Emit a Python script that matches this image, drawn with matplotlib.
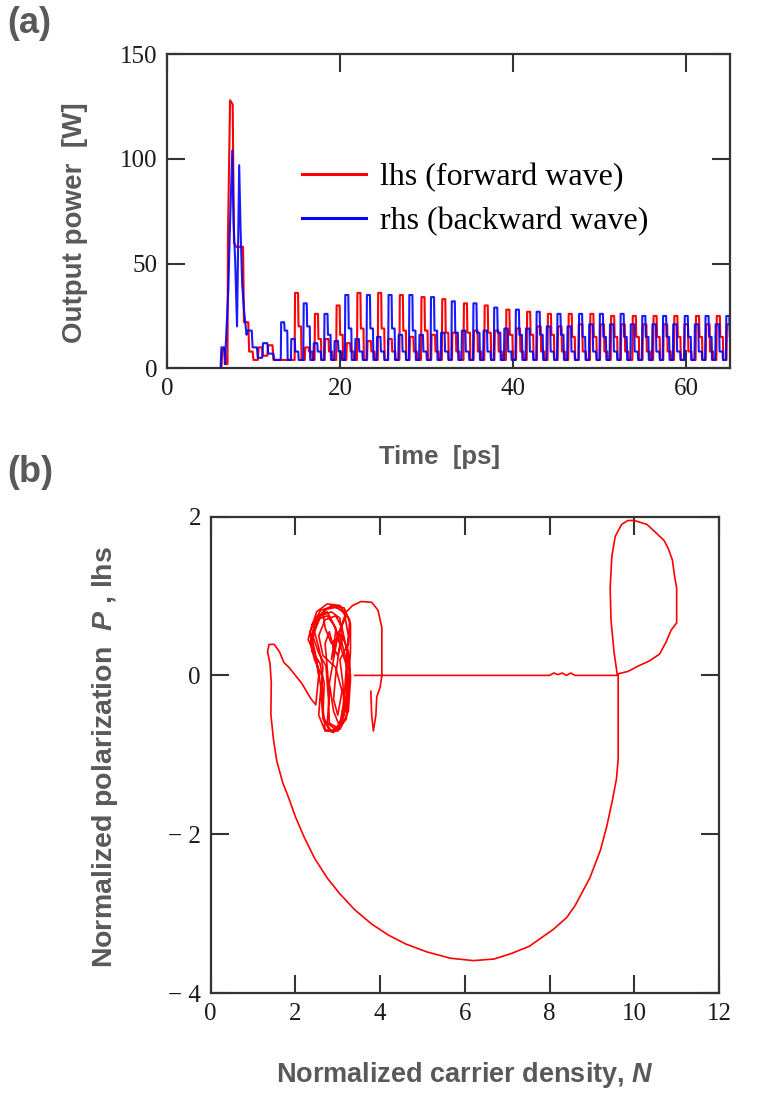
import numpy as np
import matplotlib
matplotlib.use("Agg")
import matplotlib.pyplot as plt

plt.rcParams['mathtext.fontset'] = 'custom'
plt.rcParams['mathtext.it'] = 'Liberation Sans:italic:bold'
plt.rcParams['mathtext.rm'] = 'Liberation Sans:bold'

# ---------------- panel (a) data: output power vs time ----------------
# initial burst (t in ps, P in W)
red_burst_t = [0, 6.0, 6.3, 6.4, 6.7, 6.8, 7.0, 7.05, 7.3, 7.6, 7.75, 8.0, 8.5, 8.8, 8.9, 9.4, 9.5, 9.9, 10.0,
               10.5, 10.6, 11.0, 11.1, 11.6, 11.7, 12.2, 12.3, 12.8]
red_burst_p = [0, 0, 0, 9, 9, 2, 2, 62, 128, 126, 60, 58, 58, 58, 22, 22, 8, 8, 4,
               4, 10, 10, 6, 6, 11, 11, 4, 4]
blue_burst_t = [0, 5.8, 6.2, 6.3, 6.6, 6.7, 6.9, 7.1, 7.3, 7.55, 7.7, 7.9, 8.1, 8.35, 8.5, 8.7, 8.9, 9.2, 9.3,
                9.8, 9.9, 10.4, 10.5, 11.0, 11.1, 11.6, 11.7, 12.3, 12.4, 12.9]
blue_burst_p = [0, 0, 0, 10, 10, 2, 20, 38, 70, 104, 70, 50, 20, 97, 68, 40, 28, 16, 18,
                18, 10, 10, 5, 5, 12, 12, 7, 7, 4, 4]

# pulse train: main peaks (every ~2.45 ps per wave), the step that follows each peak,
# and the lower secondary pulse half a period later
red_peak_t = [15.0, 17.3, 19.8, 22.2, 24.6, 27.1, 29.6, 32.0, 34.5, 36.9, 39.4, 41.8, 44.2, 46.6, 49.1, 51.5,
              54.0, 56.4, 58.8, 61.3, 63.7]
red_peak_p = [36, 26, 30, 36, 36, 35, 34, 33, 31, 30, 28, 27, 26, 26, 26, 25, 25, 25, 25, 25, 25]
red_step_p = [20, 14, 16, 19, 19, 18, 18, 17, 17, 17, 16, 16, 16, 15, 15, 15, 15, 15, 15, 15, 15]
red_sec_p = [10, 14, 12, 13, 14, 15, 16, 17, 18, 18, 19, 20, 20, 21, 21, 21, 21, 21, 21, 21, 21]
blue_peak_t = [13.4, 16.0, 18.4, 20.8, 23.3, 25.8, 28.2, 30.7, 33.1, 35.6, 38.0, 40.5, 42.9, 45.3, 47.8, 50.2,
               52.6, 55.1, 57.5, 60.0, 62.4, 64.8]
blue_peak_p = [22, 31, 26, 35, 35, 35, 35, 34, 32, 31, 29, 28, 27, 26, 26, 26, 26, 25, 25, 25, 25, 25]
blue_step_p = [18, 20, 16, 19, 19, 19, 18, 18, 17, 17, 17, 16, 16, 16, 15, 15, 15, 15, 15, 15, 15, 15]
blue_sec_p = [14, 12, 13, 14, 15, 16, 16, 17, 18, 18, 19, 19, 20, 20, 21, 21, 21, 21, 21, 21, 21, 21]
base_level = 4

# ---------------- panel (b) data: phase trajectory ----------------
traj_N = [3.4, 5.0, 8.0, 8.1, 8.2, 8.3, 8.4, 8.5, 8.6, 9.1, 9.6,
          # D-shaped loop on the right
          9.52, 9.45, 9.43, 9.47, 9.55, 9.7, 9.85, 10.0, 10.3, 10.5, 10.7, 10.8, 10.9, 10.95, 11.0, 11.0,
          10.87, 10.75, 10.6, 10.35, 10.1, 9.85, 9.62,
          # big loop, down the right side and back up the left
          9.62, 9.62, 9.58, 9.48, 9.35, 9.2, 8.95, 8.6, 8.4, 8.08, 7.52, 7.1, 6.69, 6.2, 5.66, 5.1, 4.6,
          4.2, 3.8, 3.4, 3.05, 2.75, 2.45, 2.21, 2.0, 1.84, 1.7, 1.56, 1.48, 1.42, 1.43,
          # small loop at the top left and the dip
          1.4, 1.34, 1.38, 1.5, 1.62, 1.7, 1.73, 1.85, 2.0, 2.15, 2.36, 2.48,
          # dense knot
          2.55, 2.45, 2.3, 2.4, 2.6, 2.9, 3.15, 3.25, 3.2, 3.15, 3.05, 2.85, 2.65, 2.6, 2.65, 2.55, 2.45,
          2.6, 2.85, 3.05, 3.1, 3.0, 2.9, 2.8, 2.7, 2.75, 2.8, 2.75, 2.95, 3.15, 3.25, 3.3, 3.3, 3.15,
          2.85, 2.55, 2.38, 2.5, 2.6, 2.55, 2.7, 3.0, 3.2, 3.3, 3.2, 3.1, 2.95, 2.7, 2.55, 2.65, 2.95,
          3.1, 3.0, 2.9, 2.95, 3.05, 2.9, 2.75, 2.65, 2.7, 2.85, 3.05, 3.2, 3.25, 3.2, 3.05, 2.9, 2.8,
          3.0, 3.2, 3.0, 2.7, 2.45, 2.35, 2.45, 2.62, 2.65, 2.7, 2.9, 3.1, 3.2, 3.22, 3.1,
          2.95, 2.75, 2.5, 2.42, 2.55, 2.72, 2.78, 2.8, 3.0, 3.15, 3.12, 3.05, 3.25, 3.28, 3.05, 2.75, 2.5,
          2.35, 2.4, 2.58, 2.68, 2.65, 2.8, 3.05, 3.25, 3.3, 3.25, 3.1, 2.95,
          2.85, 3.0,
          # outer loop on the right of the knot
          3.2, 3.35, 3.55, 3.8, 3.95, 4.04, 4.04, 4.0, 3.92, 3.9, 3.84, 3.8, 3.78]
traj_P = [0.0, 0.0, 0.0, 0.03, 0.01, 0.03, 0.0, 0.03, 0.0, 0.0, 0.0,
          0.3, 0.7, 1.1, 1.5, 1.75, 1.9, 1.95, 1.95, 1.9, 1.8, 1.7, 1.6, 1.45, 1.25, 1.1, 0.66,
          0.57, 0.42, 0.27, 0.18, 0.12, 0.05, 0.02,
          -0.33, -1.04, -1.3, -1.58, -1.9, -2.2, -2.55, -2.9, -3.05, -3.2, -3.41, -3.5, -3.57, -3.59, -3.56,
          -3.48, -3.38, -3.27, -3.13, -2.95, -2.75, -2.55, -2.3, -2.04, -1.78, -1.54, -1.35, -1.08, -0.8,
          -0.49, -0.1,
          0.15, 0.3, 0.39, 0.39, 0.3, 0.2, 0.16, 0.1, 0.0, -0.1, -0.29, -0.37,
          0.0, 0.3, 0.45, 0.65, 0.82, 0.87, 0.8, 0.5, 0.1, -0.3, -0.62, -0.7, -0.55, -0.2, 0.1, 0.35, 0.55,
          0.75, 0.8, 0.72, 0.45, 0.25, 0.35, 0.55, 0.4, 0.1, -0.25, -0.6, -0.68, -0.5, -0.1, 0.3, 0.65, 0.85,
          0.88, 0.75, 0.5, 0.2, -0.15, -0.5, -0.7, -0.7, -0.4, 0.0, 0.35, 0.6, 0.75, 0.7, 0.5, 0.25, 0.1,
          -0.2, -0.5, -0.3, 0.0, 0.4, 0.65, 0.8, 0.78, 0.6, 0.4, 0.5, 0.2, -0.2, -0.55, -0.65, -0.45, -0.1,
          0.5, 0.75, 0.86, 0.83, 0.65, 0.4, 0.2, 0.0, -0.4, -0.68, -0.72, -0.6, -0.3, 0.1, 0.3,
          0.6, 0.75, 0.7, 0.48, 0.28, 0.12, -0.3, -0.6, -0.66, -0.45, -0.1, 0.2, 0.4, 0.7, 0.88, 0.9, 0.8,
          0.55, 0.3, 0.15, -0.1, -0.5, -0.7, -0.68, -0.45, -0.05, 0.3, 0.5, 0.55,
          0.2, 0.5,
          0.8, 0.88, 0.93, 0.92, 0.82, 0.6, 0.0, -0.15, -0.27, -0.5, -0.7, -0.5, -0.2]


def pulse_train(burst_t, burst_p, peak_t, peak_p, step_p, sec_p, base):
    # Mathcad-like stepped pulses: sharp peak, a lower step, then a secondary pulse
    t = list(burst_t)
    p = list(burst_p)
    for tc, pk, st, sc in zip(peak_t, peak_p, step_p, sec_p):
        ts = tc + 1.22
        t += [tc - 0.25, tc - 0.2, tc + 0.15, tc + 0.2, tc + 0.5, tc + 0.55,
              ts - 0.3, ts - 0.25, ts + 0.15, ts + 0.2, ts + 0.55, ts + 0.6]
        p += [base, pk, pk, st, st, base,
              base, sc, sc, base + 4, base + 4, base]
    return np.array(t), np.array(p)


fig = plt.figure(figsize=(7.69, 11.06), dpi=100)
axis_col = '#333333'
gray = '#595959'

# ---------------- (a) ----------------
ax1 = fig.add_axes([0.217, 0.667, 0.732, 0.284])
rt, rp = pulse_train(red_burst_t, red_burst_p, red_peak_t, red_peak_p, red_step_p, red_sec_p, base_level)
bt, bp = pulse_train(blue_burst_t, blue_burst_p, blue_peak_t, blue_peak_p, blue_step_p, blue_sec_p, base_level)
ax1.plot(rt, rp, color='#ff0000', lw=1.5, label='lhs (forward wave)')
ax1.plot(bt, bp, color='#0000ff', lw=1.5, label='rhs (backward wave)', alpha=0.9)
ax1.set_xlim(0, 65)
ax1.set_ylim(0, 150)
ax1.set_xticks([0, 20, 40, 60])
ax1.set_yticks([0, 50, 100, 150])
leg = ax1.legend(loc='upper left', bbox_to_anchor=(0.212, 0.705), frameon=False,
                 prop=dict(family='Liberation Serif', size=23), handlelength=2.0,
                 handletextpad=0.45, labelspacing=0.45, borderpad=0)
for h in leg.get_lines():
    h.set_linewidth(2.2)
    h.set_alpha(1)

# ---------------- (b) ----------------
ax2 = fig.add_axes([0.274, 0.102, 0.661, 0.431])
ax2.plot(traj_N, traj_P, color='#ff0000', lw=1.2)
ax2.set_xlim(0, 12)
ax2.set_ylim(-4, 2)
ax2.set_xticks([0, 2, 4, 6, 8, 10, 12])
ax2.set_yticks([-4, -2, 0, 2])
ax2.set_yticklabels(['\u2212 4', '\u2212 2', '0', '2'])

for ax in (ax1, ax2):
    ax.tick_params(direction='in', top=True, right=True, length=13, width=1.5,
                   color=axis_col, pad=7)
    for s in ax.spines.values():
        s.set_linewidth(1.6)
        s.set_color(axis_col)
    for lab in ax.get_xticklabels() + ax.get_yticklabels():
        lab.set_fontfamily('Liberation Serif')
        lab.set_fontsize(18)
        lab.set_color('#1a1a1a')

fig.text(0.010, 0.979, '(a)', ha='left', va='center', family='Liberation Sans',
         weight='bold', size=26, color=gray)
fig.text(0.010, 0.573, '(b)', ha='left', va='center', family='Liberation Sans',
         weight='bold', size=26, color=gray)
fig.text(0.098, 0.799, 'Output power  [W]', rotation=90, ha='center', va='center',
         family='Liberation Sans', weight='bold', size=20, color=gray)
fig.text(0.572, 0.587, 'Time  [ps]', ha='center', va='center',
         family='Liberation Sans', weight='bold', size=18.5, color=gray)
fig.text(0.137, 0.316, 'Normalized polarization  $P$ , lhs', rotation=90,
         ha='center', va='center', family='Liberation Sans', weight='bold', size=20.5, color=gray)
fig.text(0.605, 0.028, 'Normalized carrier density, $N$', ha='center', va='center',
         family='Liberation Sans', weight='bold', size=19.5, color=gray)

fig.savefig('out.png', dpi=100)
